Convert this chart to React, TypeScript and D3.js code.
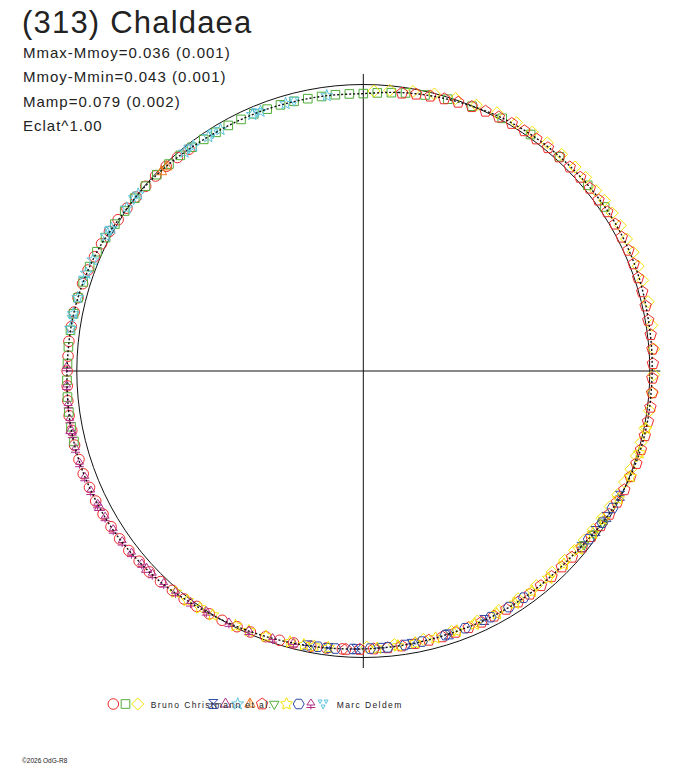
import React, { useRef, useEffect } from "react";
import * as d3 from "d3";

// phase is 0..1 (clockwise from the top), dm is magnitude offset in mmag (positive = fainter)
type Pt = [number, number];

const fitCurve: Pt[] = [
  [0.0, 35], [0.02, 22], [0.04, 11], [0.06, 2], [0.08, -8], [0.1, -13], [0.12, -16], [0.14, -19],
  [0.16, -21], [0.18, -20], [0.2, -17], [0.22, -12], [0.24, -10], [0.26, -8], [0.28, -8], [0.3, -5],
  [0.32, 2], [0.34, 12], [0.36, 27], [0.38, 32], [0.4, 33], [0.42, 35], [0.44, 38], [0.46, 38],
  [0.48, 36], [0.5, 33], [0.52, 28], [0.54, 21], [0.56, 12], [0.58, 2], [0.6, -8], [0.62, -22],
  [0.64, -30], [0.66, -37], [0.68, -40], [0.7, -43], [0.72, -42], [0.74, -38], [0.76, -35], [0.78, -33],
  [0.8, -27], [0.82, -18], [0.84, -4], [0.86, 2], [0.88, 10], [0.9, 19], [0.92, 25], [0.94, 28],
  [0.96, 32], [0.98, 34],
];

const redCircles: Pt[] = [
  [0.512, 30], [0.521, 27], [0.53, 24], [0.54, 22], [0.548, 17], [0.556, 13], [0.565, 8], [0.573, 5],
  [0.582, 0], [0.59, -4], [0.598, -7], [0.606, -13], [0.614, -16], [0.622, -22], [0.63, -26], [0.638, -28],
  [0.646, -33], [0.654, -35], [0.662, -37], [0.67, -39], [0.678, -41], [0.686, -41], [0.694, -44], [0.702, -42],
  [0.71, -43], [0.718, -41], [0.726, -41], [0.734, -39], [0.742, -37], [0.75, -36], [0.758, -34], [0.766, -35],
  [0.774, -33], [0.782, -32], [0.79, -30], [0.798, -28], [0.806, -25], [0.814, -21], [0.822, -17], [0.83, -12],
  [0.838, -6], [0.846, -2], [0.854, 1], [0.862, 4], [0.87, 6], [0.878, 9], [0.886, 13], [0.894, 17],
];

const greenSquares: Pt[] = [
  [0.712, -42], [0.72, -41], [0.728, -40], [0.736, -39], [0.745, -37], [0.754, -35], [0.763, -35], [0.772, -34],
  [0.781, -33], [0.79, -30], [0.799, -28], [0.808, -24], [0.817, -20], [0.826, -14], [0.835, -8], [0.844, -3],
  [0.853, 0], [0.862, 3], [0.871, 6], [0.88, 10], [0.888, 14], [0.896, 18], [0.904, 20], [0.912, 23],
  [0.92, 24], [0.928, 26], [0.936, 27], [0.944, 29], [0.952, 30], [0.96, 31], [0.968, 33], [0.976, 34],
  [0.984, 34], [0.992, 35], [0.0, 35], [0.008, 31], [0.016, 26], [0.024, 20], [0.035, 14], [0.048, 7],
  [0.062, 1], [0.08, -7], [0.098, -12], [0.118, -15], [0.14, -18], [0.155, -20],
];

const yellowDiamonds: Pt[] = [
  [0.006, 24], [0.015, 18], [0.028, 10], [0.04, 2], [0.052, -4], [0.064, -9], [0.076, -16], [0.088, -20],
  [0.098, -23], [0.108, -25], [0.118, -27], [0.128, -28], [0.136, -31], [0.145, -29], [0.152, -33], [0.16, -31],
  [0.168, -33], [0.176, -30], [0.184, -31], [0.192, -29], [0.2, -27], [0.212, -25], [0.225, -21], [0.238, -18],
  [0.252, -15], [0.262, -13], [0.272, -9], [0.282, -4], [0.29, -1], [0.298, 2], [0.306, 6], [0.314, 10],
  [0.322, 14], [0.33, 19], [0.338, 23], [0.346, 28], [0.354, 32], [0.362, 36], [0.37, 39], [0.38, 41],
  [0.392, 42], [0.405, 43], [0.418, 44], [0.432, 45], [0.448, 45], [0.465, 44], [0.482, 43], [0.498, 40],
];

const blueBowties: Pt[] = [
  [0.322, 4], [0.336, 11], [0.346, 17], [0.358, 23], [0.428, 37], [0.45, 37], [0.472, 36], [0.49, 35],
  [0.504, 32], [0.52, 28], [0.532, 25],
];

const purpleTriangles: Pt[] = [[0.632, -27], [0.674, -39], [0.718, -44]];

const cyanStars: Pt[] = [
  [0.773, -35], [0.781, -34], [0.79, -31], [0.804, -27], [0.812, -22], [0.827, -15], [0.832, -11], [0.846, -3],
  [0.856, 1], [0.891, 15], [0.897, 18], [0.907, 21], [0.915, 23], [0.935, 27], [0.94, 28], [0.955, 31],
  [0.979, 34],
];

const orangeTents: Pt[] = [[0.874, 11], [0.878, 12]];

const redPentagons: Pt[] = [
  [0.022, 23], [0.03, 18], [0.038, 14], [0.046, 10], [0.054, 6], [0.062, 3], [0.07, -2], [0.078, -5],
  [0.086, -8], [0.094, -10], [0.102, -11], [0.11, -12], [0.118, -14], [0.126, -14], [0.134, -16], [0.142, -17],
  [0.15, -16], [0.158, -18], [0.166, -19], [0.174, -17], [0.182, -18], [0.19, -16], [0.198, -14], [0.206, -13],
  [0.214, -12], [0.222, -11], [0.23, -12], [0.238, -13], [0.246, -12], [0.254, -10], [0.262, -12], [0.27, -11],
  [0.278, -10], [0.286, -9], [0.294, -8], [0.302, -7], [0.31, -3], [0.318, -1], [0.326, 3], [0.334, 7],
  [0.342, 12], [0.35, 18], [0.358, 22], [0.366, 26], [0.374, 29], [0.382, 30], [0.39, 30], [0.398, 31],
  [0.406, 32], [0.414, 33], [0.422, 33], [0.43, 34], [0.438, 35], [0.446, 36], [0.454, 35], [0.462, 36],
  [0.47, 35], [0.478, 34], [0.486, 33], [0.494, 32], [0.502, 31], [0.51, 29],
];

const greenInvTriangles: Pt[] = [[0.34, 12], [0.348, 17], [0.356, 22]];

const yellowStars: Pt[] = [
  [0.282, -8], [0.296, -6], [0.31, -3], [0.324, 4], [0.338, 14], [0.348, 20], [0.36, 27], [0.372, 31],
  [0.384, 33], [0.396, 34], [0.408, 35], [0.42, 36], [0.434, 38], [0.445, 39], [0.458, 38], [0.47, 37],
  [0.48, 36], [0.492, 34], [0.52, 29], [0.528, 27], [0.534, 24], [0.542, 22], [0.556, 15], [0.566, 10],
  [0.574, 6], [0.588, -1], [0.596, -5], [0.604, -10], [0.612, -14],
];

const blueHexagons: Pt[] = [
  [0.33, 8], [0.34, 13], [0.352, 20], [0.402, 34], [0.412, 35], [0.424, 36], [0.44, 38], [0.452, 38],
  [0.466, 37], [0.476, 36], [0.486, 35], [0.496, 34], [0.506, 32], [0.516, 29], [0.526, 27],
];

const purpleTrefoils: Pt[] = [
  [0.54, 20], [0.552, 15], [0.566, 9], [0.578, 4], [0.592, -3], [0.602, -9], [0.612, -14], [0.62, -19],
  [0.628, -24], [0.636, -27], [0.644, -31], [0.652, -33], [0.66, -36], [0.668, -38], [0.676, -40], [0.684, -42],
  [0.692, -43], [0.7, -44], [0.708, -43], [0.716, -42], [0.724, -41], [0.732, -39], [0.742, -39], [0.752, -38],
];

const cyanTrefoils: Pt[] = [
  [0.778, -34], [0.8, -28], [0.83, -13], [0.852, 0], [0.894, 16], [0.91, 22], [0.938, 28], [0.96, 31],
];

const observerNames = ["Bruno Christmann et al.", "Marc Deldem"];
const statLines = [
  "Mmax-Mmoy=0.036 (0.001)",
  "Mmoy-Mmin=0.043 (0.001)",
  "Mamp=0.079 (0.002)",
  "Eclat^1.00",
];

const RED = "#ee2b2b";
const GREEN = "#4fae37";
const YELLOW = "#f2e200";
const BLUE = "#2f4aa6";
const PURPLE = "#b02e88";
const CYAN = "#5cc4dc";
const ORANGE = "#f07a20";

type Shape =
  | "circle" | "square" | "diamond" | "bowtie" | "triangle" | "star" | "tent" | "pentagon"
  | "invTriangle" | "star6" | "hexagon" | "trefoil" | "invTrefoil";

const series: { shape: Shape; color: string; pts: Pt[] }[] = [
  { shape: "circle", color: RED, pts: redCircles },
  { shape: "square", color: GREEN, pts: greenSquares },
  { shape: "diamond", color: YELLOW, pts: yellowDiamonds },
  { shape: "bowtie", color: BLUE, pts: blueBowties },
  { shape: "triangle", color: PURPLE, pts: purpleTriangles },
  { shape: "star", color: CYAN, pts: cyanStars },
  { shape: "tent", color: ORANGE, pts: orangeTents },
  { shape: "pentagon", color: RED, pts: redPentagons },
  { shape: "invTriangle", color: GREEN, pts: greenInvTriangles },
  { shape: "star6", color: YELLOW, pts: yellowStars },
  { shape: "hexagon", color: BLUE, pts: blueHexagons },
  { shape: "trefoil", color: PURPLE, pts: purpleTrefoils },
  { shape: "invTrefoil", color: CYAN, pts: cyanTrefoils },
];

const FONT = "'Liberation Sans', Arial, sans-serif";

function poly(p: d3.Path, n: number, r: number, rot = 0) {
  for (let k = 0; k < n; k++) {
    const a = rot + (k * 2 * Math.PI) / n;
    const x = r * Math.sin(a);
    const y = -r * Math.cos(a);
    k === 0 ? p.moveTo(x, y) : p.lineTo(x, y);
  }
  p.closePath();
}

function star(p: d3.Path, n: number, ro: number, ri: number) {
  for (let k = 0; k < n * 2; k++) {
    const a = (k * Math.PI) / n;
    const r = k % 2 === 0 ? ro : ri;
    const x = r * Math.sin(a);
    const y = -r * Math.cos(a);
    k === 0 ? p.moveTo(x, y) : p.lineTo(x, y);
  }
  p.closePath();
}

function markerPath(shape: Shape): string {
  const p = d3.path();
  switch (shape) {
    case "circle":
      p.arc(0, 0, 5.3, 0, 2 * Math.PI);
      break;
    case "square":
      p.rect(-4.3, -4.3, 8.6, 8.6);
      break;
    case "diamond":
      poly(p, 4, 6);
      break;
    case "bowtie":
      p.moveTo(-4.5, -4.5); p.lineTo(4.5, -4.5); p.lineTo(-4.5, 4.5); p.lineTo(4.5, 4.5); p.closePath();
      p.moveTo(-4.5, 0); p.lineTo(4.5, 0);
      break;
    case "triangle":
      poly(p, 3, 6);
      break;
    case "star":
      star(p, 5, 6.3, 2.6);
      break;
    case "tent":
      poly(p, 3, 6);
      p.moveTo(0, -6); p.lineTo(0, 3);
      break;
    case "pentagon":
      poly(p, 5, 6);
      break;
    case "invTriangle":
      poly(p, 3, 5.5, Math.PI);
      break;
    case "star6":
      star(p, 5, 6.3, 3.2);
      break;
    case "hexagon":
      poly(p, 6, 5.5, Math.PI / 6);
      break;
    case "trefoil":
      p.moveTo(0, -5); p.lineTo(4, 1); p.lineTo(-4, 1); p.closePath();
      p.moveTo(0, 1); p.lineTo(0, 5.5);
      p.moveTo(-4.5, 3.5); p.lineTo(4.5, 3.5);
      break;
    case "invTrefoil":
      p.moveTo(-5, -4); p.lineTo(-1, -4); p.lineTo(-3, -0.5); p.closePath();
      p.moveTo(1, -4); p.lineTo(5, -4); p.lineTo(3, -0.5); p.closePath();
      p.moveTo(-2, 1); p.lineTo(2, 1); p.lineTo(0, 5); p.closePath();
      break;
  }
  return p.toString();
}

const W = 688;
const H = 768;
const CX = 363.3;
const CY = 371;
const R0 = 286.5;
const AXIS_R = 297;

const App: React.FC = () => {
  const svgRef = useRef<SVGSVGElement | null>(null);

  useEffect(() => {
    const svg = d3.select(svgRef.current).attr("width", W).attr("height", H);
    svg.selectAll("*").remove();

    const angle = d3.scaleLinear().domain([0, 1]).range([0, 2 * Math.PI]);
    const radius = d3.scaleLinear().domain([0, 1]).range([0, R0]);
    const flux = (mm: number) => Math.pow(10, (-0.4 * mm) / 1000);

    const g = svg.append("g").attr("transform", `translate(${CX},${CY})`);

    // cross and mean-brightness circle
    g.append("line").attr("x1", -AXIS_R).attr("x2", AXIS_R).attr("y1", 0).attr("y2", 0)
      .attr("stroke", "#111").attr("stroke-width", 1);
    g.append("line").attr("x1", 0).attr("x2", 0).attr("y1", -AXIS_R).attr("y2", AXIS_R)
      .attr("stroke", "#111").attr("stroke-width", 1);
    g.append("circle").attr("r", radius(1)).attr("fill", "none")
      .attr("stroke", "#111").attr("stroke-width", 1);

    // observations
    series.forEach((s) => {
      const d = markerPath(s.shape);
      g.append("g")
        .selectAll("path")
        .data(s.pts)
        .join("path")
        .attr("d", d)
        .attr("transform", (pt) => {
          const [x, y] = d3.pointRadial(angle(pt[0]), radius(flux(pt[1])));
          return `translate(${x},${y})`;
        })
        .attr("fill", "none")
        .attr("stroke", s.color)
        .attr("stroke-width", 1);
    });

    // fitted lightcurve
    const fitLine = d3.lineRadial<Pt>()
      .angle((d) => angle(d[0]))
      .radius((d) => radius(flux(d[1])))
      .curve(d3.curveCardinalClosed);
    g.append("path")
      .attr("d", fitLine(fitCurve))
      .attr("fill", "none")
      .attr("stroke", "#111")
      .attr("stroke-width", 1.4)
      .attr("stroke-dasharray", "2 2");

    // title and stats
    svg.append("text").attr("x", 22).attr("y", 33).text("(313) Chaldaea")
      .attr("font-family", FONT).attr("font-size", 31).attr("letter-spacing", 1.2).attr("fill", "#222");
    svg.append("g").selectAll("text").data(statLines).join("text")
      .attr("x", 23).attr("y", (_, i) => 57.5 + i * 24.6)
      .text((t) => t)
      .attr("font-family", FONT).attr("font-size", 15).attr("letter-spacing", 1).attr("fill", "#222");

    // legend
    const legY = 704;
    const leg = svg.append("g");
    series.forEach((s, i) => {
      const x = i < 3 ? 113.3 + i * 12.2 : 213.3 + (i - 3) * 12.2;
      leg.append("path").attr("d", markerPath(s.shape))
        .attr("transform", `translate(${x},${legY})`)
        .attr("fill", "none").attr("stroke", s.color).attr("stroke-width", 1);
    });
    leg.selectAll("text").data(observerNames).join("text")
      .attr("x", (_, i) => (i === 0 ? 150.7 : 336.7))
      .attr("y", legY + 3.5)
      .text((t) => t)
      .attr("font-family", FONT).attr("font-size", 8.5).attr("letter-spacing", 1.4).attr("fill", "#222");

    svg.append("text").attr("x", 22).attr("y", 763).text("©2026 OdG-R8")
      .attr("font-family", FONT).attr("font-size", 6.5).attr("fill", "#222");
  }, []);

  return (
    <svg ref={svgRef} style={{ position: "absolute", left: 0, top: 0, background: "#fff" }}></svg>
  );
};

export default App;
